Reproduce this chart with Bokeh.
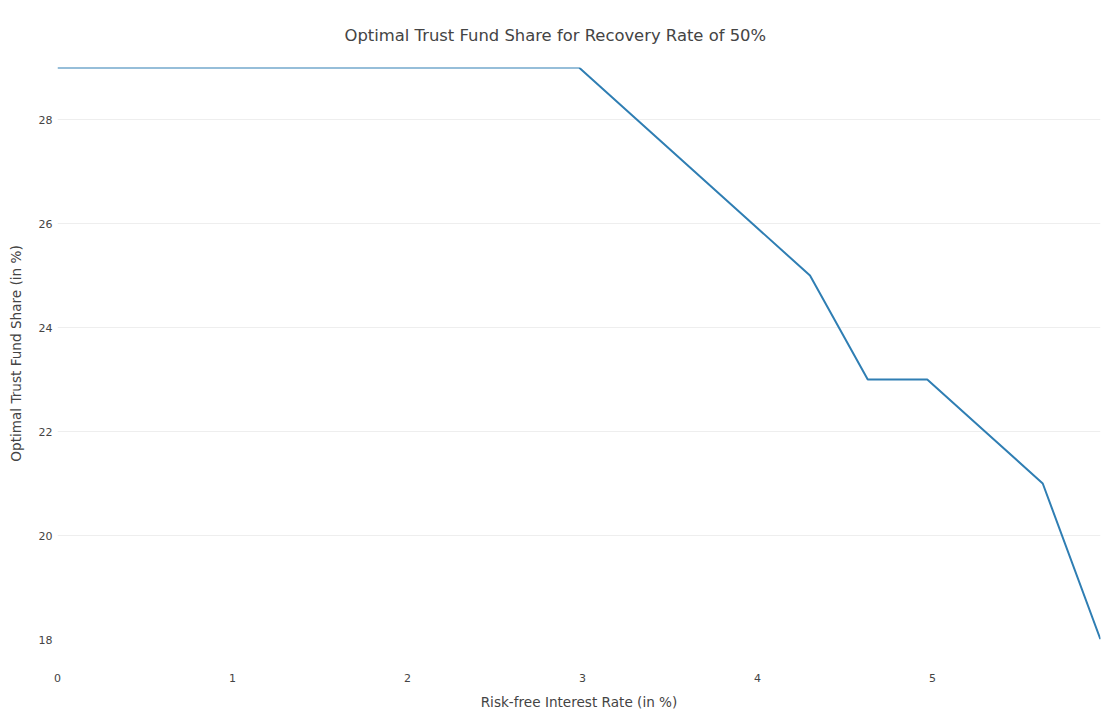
from bokeh.plotting import figure
from bokeh.models import Range1d, FixedTicker
from bokeh.embed import file_html
from bokeh.resources import INLINE

rate = [0.0, 0.33, 0.66, 0.99, 1.32, 1.66, 1.99, 2.32, 2.65, 2.98,
        3.31, 3.64, 3.97, 4.30, 4.63, 4.97, 5.30, 5.63, 5.96]
share = [29, 29, 29, 29, 29, 29, 29, 29, 29, 29,
         28, 27, 26, 25, 23, 23, 22, 21, 18]
x_ticks = [0, 1, 2, 3, 4, 5]
y_ticks = [18, 20, 22, 24, 26, 28]
title_text = "Optimal Trust Fund Share for Recovery Rate of 50%"

FONT = "DejaVu Sans"
TXT = "#444444"

p = figure(width=1115, height=719, output_backend="svg", toolbar_location=None,
           x_range=Range1d(min(rate), max(rate)), y_range=Range1d(min(share), max(share)),
           min_border_left=57, min_border_right=15, min_border_top=67, min_border_bottom=80,
           title=title_text)
p.outline_line_color = None
p.background_fill_color = "white"
p.border_fill_color = "white"

p.line(rate, share, line_color="#2f7eb3", line_width=2)

p.title.text_font = FONT
p.title.text_font_size = "16.4px"
p.title.text_font_style = "normal"
p.title.text_color = TXT
p.title.align = "left"
p.title.standoff = 45
p.title.offset = 287

for ax in (p.xaxis[0], p.yaxis[0]):
    ax.axis_line_color = None
    ax.major_tick_line_color = None
    ax.minor_tick_line_color = None
    ax.major_tick_out = 0
    ax.major_tick_in = 0
    ax.minor_tick_out = 0
    ax.major_label_text_font = FONT
    ax.major_label_text_font_size = "11px"
    ax.major_label_text_color = TXT
    ax.axis_label_text_font = FONT
    ax.axis_label_text_font_size = "13.6px"
    ax.axis_label_text_font_style = "normal"
    ax.axis_label_text_color = TXT

p.xaxis.ticker = FixedTicker(ticks=x_ticks)
p.yaxis.ticker = FixedTicker(ticks=y_ticks)
p.xaxis.axis_label = "Risk-free Interest Rate (in %)"
p.yaxis.axis_label = "Optimal Trust Fund Share (in %)"
p.xaxis.major_label_standoff = 34
p.yaxis.major_label_standoff = 5
p.xaxis.axis_label_standoff = 9
p.yaxis.axis_label_standoff = 12

p.xgrid.grid_line_color = None
p.ygrid.grid_line_color = "#eeeeee"
p.ygrid.grid_line_width = 1

open("out.html", "w").write(file_html(p, INLINE))
